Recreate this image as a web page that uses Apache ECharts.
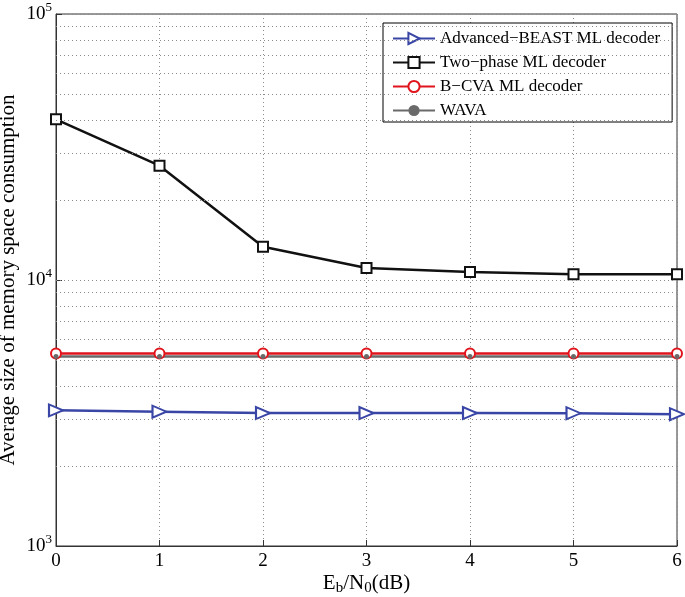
<!DOCTYPE html>
<html><head><meta charset="utf-8">
<script src="https://cdn.jsdelivr.net/npm/echarts@6/dist/echarts.min.js"></script>
<style>html,body{margin:0;padding:0;background:#fff}#c{width:685px;height:597px}</style>
</head><body><div id="c"></div>
<script>
const xValues = [0, 1, 2, 3, 4, 5, 6];
const beast = [3235, 3200, 3160, 3160, 3160, 3155, 3130];
const twoPhase = [40200, 26900, 13340, 11100, 10720, 10500, 10500];
const bcva = [5290, 5290, 5290, 5290, 5290, 5290, 5290];
const wava = [5160, 5160, 5160, 5160, 5160, 5160, 5160];
const minorLevels = [2000,3000,4000,5000,6000,7000,8000,9000,20000,30000,40000,50000,60000,70000,80000,90000,10000];
const names = ['Advanced\u2212BEAST ML decoder','Two\u2212phase ML decoder','B\u2212CVA ML decoder','WAVA'];
const FONT = '"Liberation Serif","Times New Roman",serif';
const pairs = a => xValues.map((x,i)=>[x,a[i]]);
const chart = echarts.init(document.getElementById('c'));
const dotted = {color:'#8a8a8a', width:1, type:[1,3]};
chart.setOption({
  animation:false,
  grid:{left:56,right:8,top:14,bottom:51,outerBoundsMode:'none',containLabel:false,show:true,borderColor:'#333',borderWidth:1,backgroundColor:'transparent'},
  legend:{
    data:names, orient:'vertical', left:383, top:23, itemWidth:42, itemHeight:14, itemGap:7,
    backgroundColor:'#fff', borderColor:'#000', borderWidth:1, padding:[7,12,3,9],
    textStyle:{fontFamily:FONT,fontSize:17,color:'#000'}
  },
  xAxis:{
    type:'value', min:0, max:6, interval:1,
    name:'{n|E}{s|b}{n|/N}{s|0}{n|(dB)}', nameLocation:'middle', nameGap:25, nameMoveOverlap:false,
    nameTextStyle:{rich:{n:{fontFamily:FONT,fontSize:21,color:'#000'},s:{fontFamily:FONT,fontSize:15,color:'#000',verticalAlign:'bottom',padding:[10,0,0,0]}}},
    axisLine:{lineStyle:{color:'#333'}},
    axisTick:{inside:true,length:6,lineStyle:{color:'#333'}},
    axisLabel:{fontFamily:FONT,fontSize:19,color:'#000',margin:6},
    splitLine:{show:true,lineStyle:dotted}
  },
  yAxis:{
    type:'log', min:1000, max:100000, logBase:10,
    name:'Average size of memory space consumption', nameLocation:'middle', nameGap:37, nameMoveOverlap:false,
    nameTextStyle:{fontFamily:FONT,fontSize:21,color:'#000'},
    axisLine:{lineStyle:{color:'#333'}},
    axisTick:{inside:true,length:6,lineStyle:{color:'#333'}},
    axisLabel:{margin:4,formatter:v=>'{b|10}{s|'+Math.round(Math.log10(v))+'}',
      rich:{b:{fontFamily:FONT,fontSize:19,color:'#000'},s:{fontFamily:FONT,fontSize:13,color:'#000',verticalAlign:'top',padding:[0,0,12,0]}}},
    splitLine:{show:true,lineStyle:dotted}
  },
  series:[
    {name:'minor', type:'line', data:[], silent:true,
     markLine:{silent:true,symbol:'none',label:{show:false},lineStyle:dotted,
       data:minorLevels.map(v=>({yAxis:v}))}},
    {name:names[0], type:'line', data:pairs(beast), symbol:'emptyTriangle', symbolSize:[12,14], symbolRotate:-90,
     color:'#3a46a6', lineStyle:{width:2.5,color:'#3a46a6'}, itemStyle:{borderWidth:2.5,color:'#3a46a6'}},
    {name:names[1], type:'line', data:pairs(twoPhase), symbol:'emptyRect', symbolSize:10,
     color:'#111', lineStyle:{width:2.5,color:'#111'}, itemStyle:{borderWidth:2.5,color:'#111'}},
    {name:names[2], type:'line', data:pairs(bcva), symbol:'emptyCircle', symbolSize:10,
     color:'#e0141c', lineStyle:{width:2.5,color:'#e0141c'}, itemStyle:{borderWidth:2.5,color:'#e0141c'}},
    {name:names[3], type:'line', data:pairs(wava), symbol:'circle', symbolSize:5,
     color:'#6a6a6a', lineStyle:{width:2.5,color:'#6a6a6a'}, itemStyle:{color:'#6a6a6a'}}
  ]
});
</script></body></html>
